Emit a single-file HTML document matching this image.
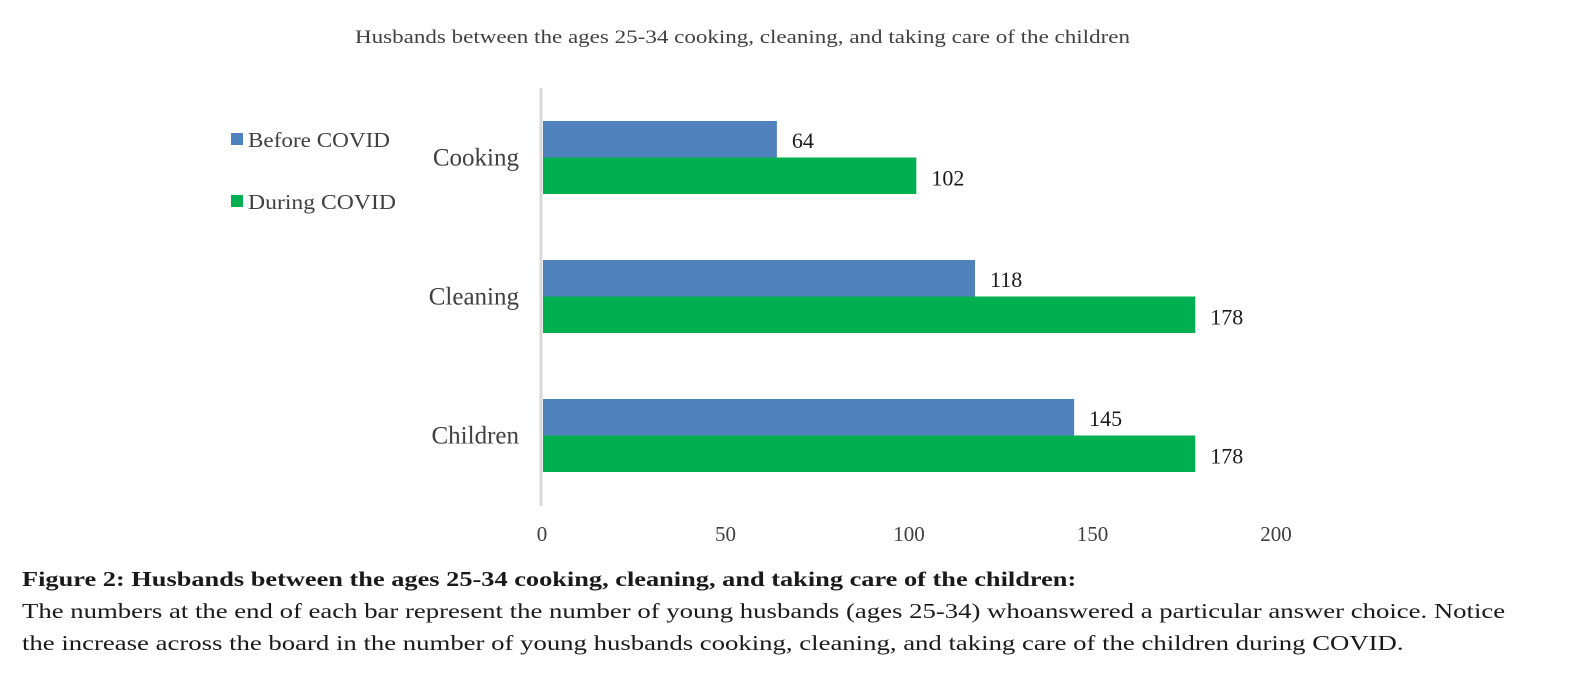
<!DOCTYPE html>
<html><head><meta charset="utf-8"><style>
body{margin:0;width:1573px;height:680px;background:#fff;overflow:hidden;font-family:"Liberation Serif",serif;}
svg text{font-family:"Liberation Serif",serif;}
.cap{position:absolute;left:22px;font-size:21px;color:#1a1a1a;white-space:nowrap;transform-origin:0 0;}
</style></head><body>
<svg id="chart" width="1573" height="560" style="position:absolute;left:0;top:0">
<text x="355" y="43" textLength="775" lengthAdjust="spacingAndGlyphs" font-size="19" fill="#404040">Husbands between the ages 25-34 cooking, cleaning, and taking care of the children</text>
<g>
<rect x="231" y="133" width="12" height="12" fill="#4f81bd"/>
<text x="248" y="147" textLength="142" lengthAdjust="spacingAndGlyphs" font-size="21" fill="#404040">Before COVID</text>
<rect x="231" y="195" width="12" height="12" fill="#00b050"/>
<text x="248" y="209" textLength="148" lengthAdjust="spacingAndGlyphs" font-size="21" fill="#404040">During COVID</text>
</g>
<g id="plot"></g>
</svg>
<div class="cap" style="top:567px;font-weight:bold;transform:scaleX(1.255);">Figure 2: Husbands between the ages 25-34 cooking, cleaning, and taking care of the children:</div>
<div class="cap" style="top:599px;transform:scaleX(1.273);">The numbers at the end of each bar represent the number of young husbands (ages 25-34) whoanswered a particular answer choice. Notice</div>
<div class="cap" style="top:631px;transform:scaleX(1.273);">the increase across the board in the number of young husbands cooking, cleaning, and taking care of the children during COVID.</div>
<script>
const categories = ["Cooking","Cleaning","Children"];
const beforeValues = [64,118,145];
const duringValues = [102,178,178];
const tickValues = [0,50,100,150,200];
const NS="http://www.w3.org/2000/svg";
const g=document.getElementById('plot');
const x0=542, xMax=200, xW=734;
function xs(v){return x0+v/xMax*xW;}
const top0=121, catStep=139, barH=36.5;
function yc(i){return top0+i*catStep;}
function mk(t,a){const e=document.createElementNS(NS,t);for(const k in a)e.setAttribute(k,a[k]);g.appendChild(e);return e;}
categories.forEach((c,i)=>{
  const y=yc(i);
  const b=mk('rect',{x:xs(0)+1,y:y,width:xs(beforeValues[i])-xs(0)-1,height:barH,fill:'#4f81bd'});
  
  
  const d=mk('rect',{x:xs(0)+1,y:y+barH,width:xs(duringValues[i])-xs(0)-1,height:barH,fill:'#00b050'});
  
  
  const lb=mk('text',{x:xs(beforeValues[i])+15,y:y+27,'font-size':22,fill:'#1a1a1a'});lb.textContent=beforeValues[i];
  
  
  const ld=mk('text',{x:xs(duringValues[i])+15,y:y+barH+28,'font-size':22,fill:'#1a1a1a'});ld.textContent=duringValues[i];
  
  
  const cl=mk('text',{x:519,y:y+barH+8,'text-anchor':'end','font-size':25,fill:'#404040'});cl.textContent=c;
  
  
});
const ax=mk('line',{x1:x0-1,y1:88,x2:x0-1,y2:506,stroke:'#d9d9d9','stroke-width':3});


tickValues.forEach(v=>{
  const t=mk('text',{x:xs(v),y:541,'text-anchor':'middle','font-size':21,fill:'#404040'});t.textContent=v;
  
  
});
</script>
</body></html>
